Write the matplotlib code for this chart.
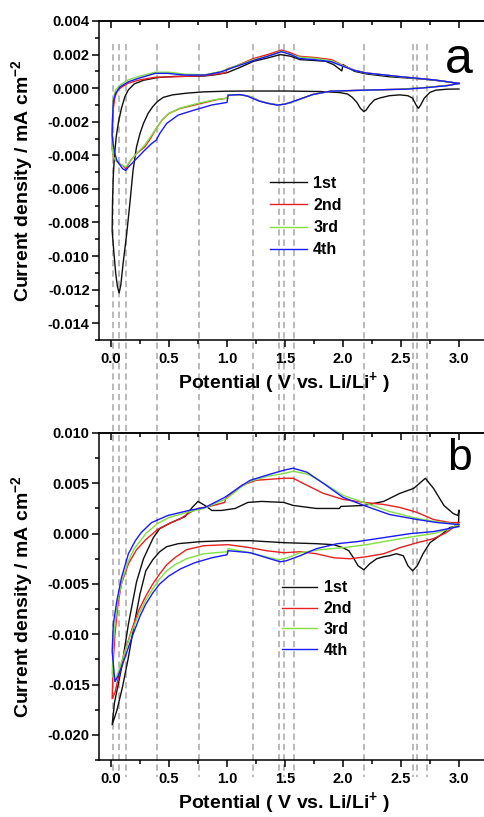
import numpy as np
import matplotlib
matplotlib.use("Agg")
import matplotlib.pyplot as plt
from matplotlib.lines import Line2D
from matplotlib import transforms
from matplotlib.ticker import MultipleLocator, FormatStrFormatter

plt.rcParams['font.family'] = ['Liberation Sans', 'DejaVu Sans']
plt.rcParams['font.weight'] = 'bold'
plt.rcParams['axes.unicode_minus'] = False
plt.rcParams['mathtext.fontset'] = 'custom'
plt.rcParams['mathtext.rm'] = 'Liberation Sans:bold'
plt.rcParams['mathtext.bf'] = 'Liberation Sans:bold'
plt.rcParams['mathtext.it'] = 'Liberation Sans:bold'

# ---------------- data ----------------
cycle_labels = ['1st', '2nd', '3rd', '4th']
cycle_colors = ['#101010', '#e82020', '#80e040', '#1a1aff']
marker_potentials = [0.015, 0.07, 0.127, 0.40, 0.76, 1.22, 1.446, 1.49, 1.58,
                     2.18, 2.60, 2.64, 2.72]

# Panel a: (potential V, current density mA cm-2) pairs
a1_cath = [(3.00, -0.00005), (2.90, -0.00006), (2.80, -0.00012), (2.75, -0.00025),
           (2.70, -0.0006), (2.67, -0.0010), (2.65, -0.0012), (2.63, -0.0010),
           (2.60, -0.0006), (2.56, -0.00045), (2.49, -0.0004), (2.40, -0.00045),
           (2.32, -0.00058), (2.27, -0.0007), (2.23, -0.0010), (2.20, -0.0013),
           (2.18, -0.0014), (2.15, -0.0012), (2.12, -0.00085), (2.08, -0.00055),
           (2.04, -0.00035), (1.97, -0.00026), (1.80, -0.0002), (1.50, -0.00017),
           (1.20, -0.00017), (1.00, -0.00018), (0.80, -0.00022), (0.65, -0.0003),
           (0.53, -0.0004), (0.45, -0.00055), (0.40, -0.0008), (0.36, -0.0011),
           (0.32, -0.0015), (0.28, -0.0021), (0.25, -0.0027), (0.22, -0.0035),
           (0.19, -0.0049), (0.165, -0.0067), (0.135, -0.0087), (0.105, -0.0104),
           (0.085, -0.0117), (0.07, -0.0122), (0.055, -0.0118), (0.04, -0.0110),
           (0.025, -0.0098), (0.01, -0.0085)]
a1_anod = [(0.01, -0.0085), (0.013, -0.0068), (0.02, -0.0052), (0.03, -0.0040),
           (0.045, -0.0029), (0.065, -0.0020), (0.09, -0.0012), (0.12, -0.0005),
           (0.15, -0.0001), (0.20, 0.00025), (0.28, 0.00047), (0.40, 0.00063),
           (0.55, 0.0007), (0.80, 0.00072), (0.90, 0.0008), (1.00, 0.00092),
           (1.10, 0.0012), (1.23, 0.0016), (1.35, 0.0018), (1.46, 0.0020),
           (1.55, 0.0019), (1.63, 0.0017), (1.75, 0.00165), (1.85, 0.0016),
           (1.92, 0.0014), (1.99, 0.00103), (2.00, 0.0014), (2.05, 0.0012),
           (2.10, 0.0010), (2.20, 0.00085), (2.40, 0.00068), (2.70, 0.00054),
           (2.90, 0.00038), (3.00, 0.00028)]
a2_cath = [(3.00, 0.00028), (2.90, 0.00016), (2.70, 0.00003), (2.50, -0.00006),
           (2.20, -0.00012), (1.90, -0.00018), (1.75, -0.00035), (1.65, -0.0006),
           (1.55, -0.00088), (1.45, -0.0010), (1.35, -0.0009), (1.28, -0.00075),
           (1.20, -0.0005), (1.12, -0.0004), (1.01, -0.0004), (1.00, -0.0006),
           (0.90, -0.0007), (0.75, -0.00095), (0.60, -0.0012), (0.50, -0.0015),
           (0.44, -0.0019), (0.39, -0.0024), (0.34, -0.0030), (0.29, -0.0035),
           (0.22, -0.0039), (0.17, -0.0043), (0.127, -0.0048), (0.10, -0.0046),
           (0.07, -0.0045), (0.04, -0.0043), (0.02, -0.0041), (0.01, -0.0036)]
a2_anod = [(0.01, -0.0036), (0.012, -0.0025), (0.02, -0.0012), (0.035, -0.0005),
           (0.06, -0.0001), (0.10, 0.0001), (0.15, 0.0003), (0.24, 0.00048),
           (0.38, 0.00065), (0.55, 0.00068), (0.80, 0.00074), (0.99, 0.00092),
           (1.00, 0.00115), (1.07, 0.0013), (1.23, 0.00177), (1.35, 0.0020),
           (1.47, 0.00227), (1.55, 0.0021), (1.62, 0.0019), (1.75, 0.00183),
           (1.90, 0.0017), (2.00, 0.00135), (2.10, 0.00107), (2.20, 0.00091),
           (2.50, 0.00068), (2.80, 0.00048), (3.00, 0.00028)]
a3_cath = [(3.00, 0.00028), (2.90, 0.00016), (2.70, 0.00003), (2.50, -0.00006),
           (2.20, -0.00012), (1.90, -0.00018), (1.75, -0.00036), (1.65, -0.0006),
           (1.55, -0.00088), (1.45, -0.0010), (1.35, -0.0009), (1.28, -0.00076),
           (1.20, -0.0005), (1.12, -0.0004), (1.01, -0.0004), (1.00, -0.0006),
           (0.90, -0.00068), (0.75, -0.0009), (0.60, -0.00118), (0.50, -0.0015),
           (0.44, -0.0019), (0.39, -0.0024), (0.34, -0.0029), (0.29, -0.0034),
           (0.22, -0.0039), (0.17, -0.0043), (0.127, -0.0047), (0.10, -0.0046),
           (0.07, -0.0045), (0.04, -0.0043), (0.02, -0.0041), (0.01, -0.0036)]
a3_anod = [(0.01, -0.0036), (0.012, -0.0020), (0.02, -0.0006), (0.04, -0.0001),
           (0.08, 0.0002), (0.15, 0.0005), (0.24, 0.0007), (0.38, 0.00095),
           (0.50, 0.00095), (0.64, 0.00083), (0.81, 0.0008), (0.95, 0.0010),
           (1.07, 0.0013), (1.23, 0.0017), (1.35, 0.0019), (1.47, 0.0022),
           (1.55, 0.0020), (1.62, 0.00185), (1.75, 0.00178), (1.90, 0.00163),
           (2.00, 0.00133), (2.10, 0.00106), (2.20, 0.0009), (2.50, 0.00068),
           (2.80, 0.00048), (3.00, 0.00028)]
a4_cath = [(3.00, 0.00028), (2.90, 0.00015), (2.70, 0.00002), (2.55, -0.00006),
           (2.17, -0.00012), (1.89, -0.00018), (1.74, -0.00038), (1.60, -0.00072),
           (1.50, -0.00095), (1.43, -0.00101), (1.35, -0.0009), (1.28, -0.00078),
           (1.17, -0.00046), (1.11, -0.00038), (1.01, -0.00042), (1.00, -0.00085),
           (0.87, -0.0010), (0.72, -0.0013), (0.58, -0.0016), (0.48, -0.0021),
           (0.42, -0.0027), (0.39, -0.0031), (0.35, -0.0033), (0.29, -0.0037),
           (0.22, -0.0042), (0.15, -0.0047), (0.127, -0.0049), (0.10, -0.0048),
           (0.07, -0.0045), (0.05, -0.0043), (0.034, -0.0039), (0.02, -0.0034),
           (0.01, -0.0028)]
a4_anod = [(0.01, -0.0028), (0.012, -0.0020), (0.02, -0.0008), (0.04, -0.0003),
           (0.078, 0.00008), (0.15, 0.00038), (0.235, 0.00058), (0.38, 0.00088),
           (0.49, 0.00088), (0.64, 0.00078), (0.81, 0.00078), (0.95, 0.00097),
           (1.07, 0.00127), (1.24, 0.00167), (1.35, 0.0019), (1.47, 0.00217),
           (1.55, 0.0020), (1.62, 0.00177), (1.75, 0.0017), (1.90, 0.00157),
           (2.00, 0.0013), (2.10, 0.00105), (2.20, 0.0009), (2.50, 0.00068),
           (2.80, 0.00048), (3.00, 0.00028)]

# Panel b
b1_cath = [(3.00, 0.0023), (2.995, 0.0008), (2.92, 0.0006), (2.87, 0.0001),
           (2.81, -0.0004), (2.75, -0.0009), (2.69, -0.0020), (2.64, -0.0032),
           (2.60, -0.0037), (2.56, -0.0032), (2.52, -0.0022), (2.46, -0.0020),
           (2.40, -0.0022), (2.35, -0.0023), (2.29, -0.0025), (2.23, -0.0030),
           (2.18, -0.0036), (2.13, -0.0032), (2.09, -0.0024), (2.05, -0.0017),
           (2.00, -0.0014), (1.92, -0.0011), (1.77, -0.0010), (1.49, -0.0009),
           (1.20, -0.0007), (1.00, -0.0007), (0.77, -0.0008), (0.58, -0.0010),
           (0.48, -0.0013), (0.42, -0.0018), (0.36, -0.0026), (0.30, -0.0037),
           (0.25, -0.0060), (0.20, -0.0090), (0.15, -0.0123), (0.10, -0.0152),
           (0.05, -0.0176), (0.01, -0.0190)]
b1_anod = [(0.01, -0.0190), (0.03, -0.0168), (0.09, -0.0134), (0.15, -0.0090),
           (0.22, -0.0048), (0.28, -0.0025), (0.32, -0.0015), (0.365, -0.0004),
           (0.42, 0.0005), (0.52, 0.0011), (0.64, 0.0017), (0.70, 0.0026),
           (0.75, 0.0032), (0.81, 0.0028), (0.87, 0.0023), (0.95, 0.0023),
           (1.07, 0.0025), (1.18, 0.0031), (1.30, 0.0032), (1.49, 0.0031),
           (1.57, 0.0028), (1.77, 0.0025), (1.97, 0.0025), (1.98, 0.0027),
           (2.18, 0.0028), (2.35, 0.0032), (2.49, 0.0040), (2.61, 0.0045),
           (2.71, 0.0055), (2.78, 0.0045), (2.87, 0.0028), (2.95, 0.0020),
           (2.99, 0.0018), (3.00, 0.0023)]
b2_cath = [(3.00, 0.0011), (2.95, 0.0006), (2.89, 0.0001), (2.78, -0.0005),
           (2.64, -0.0009), (2.49, -0.0014), (2.35, -0.0020), (2.20, -0.0023),
           (2.06, -0.0025), (1.92, -0.0024), (1.77, -0.0020), (1.63, -0.0018),
           (1.49, -0.0019), (1.34, -0.0017), (1.20, -0.0014), (1.01, -0.0011),
           (0.80, -0.0012), (0.65, -0.0016), (0.55, -0.0024), (0.48, -0.0031),
           (0.42, -0.0040), (0.36, -0.0050), (0.30, -0.0062), (0.24, -0.0076),
           (0.18, -0.0095), (0.12, -0.0117), (0.07, -0.0140), (0.034, -0.0158),
           (0.01, -0.0164)]
b2_anod = [(0.01, -0.0164), (0.02, -0.0125), (0.034, -0.0100), (0.06, -0.0070),
           (0.09, -0.0050), (0.15, -0.0030), (0.22, -0.0016), (0.30, -0.0006),
           (0.40, 0.0004), (0.50, 0.0010), (0.60, 0.0015), (0.68, 0.0021),
           (0.75, 0.0025), (0.85, 0.0027), (0.98, 0.0031), (0.99, 0.0035),
           (1.13, 0.0048), (1.25, 0.0053), (1.37, 0.0054), (1.49, 0.0055),
           (1.57, 0.0055), (1.69, 0.0048), (1.83, 0.0040), (2.00, 0.0034),
           (2.18, 0.0031), (2.35, 0.0029), (2.49, 0.0026), (2.64, 0.0021),
           (2.78, 0.0014), (2.92, 0.0011), (3.00, 0.0011)]
b3_cath = [(3.00, 0.0009), (2.90, 0.0004), (2.78, 0.0000), (2.60, -0.0003),
           (2.40, -0.0007), (2.20, -0.0011), (2.00, -0.0014), (1.80, -0.0016),
           (1.63, -0.0019), (1.52, -0.0024), (1.45, -0.0026), (1.37, -0.0024),
           (1.20, -0.0019), (1.01, -0.0015), (1.00, -0.0018), (0.80, -0.0020),
           (0.65, -0.0025), (0.55, -0.0031), (0.48, -0.0037), (0.42, -0.0045),
           (0.36, -0.0055), (0.30, -0.0066), (0.24, -0.0080), (0.18, -0.0097),
           (0.12, -0.0117), (0.07, -0.0135), (0.034, -0.0147), (0.01, -0.0140)]
b3_anod = [(0.01, -0.0140), (0.02, -0.0110), (0.034, -0.0090), (0.06, -0.0065),
           (0.10, -0.0045), (0.15, -0.0027), (0.20, -0.0015), (0.30, 0.0000),
           (0.40, 0.0010), (0.50, 0.0016), (0.65, 0.0021), (0.80, 0.0025),
           (1.00, 0.0035), (1.13, 0.0047), (1.20, 0.0052), (1.35, 0.0057),
           (1.50, 0.0060), (1.57, 0.0062), (1.70, 0.0059), (1.85, 0.0049),
           (2.00, 0.0038), (2.20, 0.0030), (2.40, 0.0022), (2.64, 0.0015),
           (2.80, 0.0012), (3.00, 0.0009)]
b4_cath = [(3.00, 0.0007), (2.78, 0.0002), (2.58, 0.0000), (2.35, -0.0004),
           (2.12, -0.0008), (1.95, -0.0010), (1.77, -0.0015), (1.63, -0.0022),
           (1.51, -0.0027), (1.46, -0.0028), (1.37, -0.0025), (1.20, -0.0019),
           (1.01, -0.0017), (1.00, -0.0021), (0.87, -0.0024), (0.72, -0.0029),
           (0.60, -0.0035), (0.50, -0.0042), (0.42, -0.0050), (0.36, -0.0059),
           (0.30, -0.0070), (0.25, -0.0082), (0.19, -0.0100), (0.15, -0.0113),
           (0.10, -0.0130), (0.06, -0.0142), (0.034, -0.0147), (0.01, -0.0117)]
b4_anod = [(0.01, -0.0117), (0.02, -0.0090), (0.05, -0.0067), (0.09, -0.0044),
           (0.15, -0.0020), (0.21, -0.0007), (0.26, 0.0001), (0.35, 0.0011),
           (0.49, 0.0018), (0.67, 0.0023), (0.81, 0.0026), (0.98, 0.0036),
           (1.13, 0.0048), (1.20, 0.0053), (1.37, 0.0059), (1.49, 0.0063),
           (1.57, 0.0065), (1.69, 0.0061), (1.83, 0.0050), (2.00, 0.0036),
           (2.18, 0.0028), (2.40, 0.0019), (2.64, 0.0014), (2.81, 0.0011),
           (3.00, 0.0009)]

panel_a = [(a1_cath, a1_anod), (a2_cath, a2_anod), (a3_cath, a3_anod), (a4_cath, a4_anod)]
panel_b = [(b1_cath, b1_anod), (b2_cath, b2_anod), (b3_cath, b3_anod), (b4_cath, b4_anod)]

# ---------------- figure ----------------
W, H = 484, 817
fig = plt.figure(figsize=(W / 100, H / 100), dpi=100)
fig.patch.set_facecolor('white')

def px_box(left, top, right, bottom):
    return [left / W, 1 - bottom / H, (right - left) / W, (bottom - top) / H]

ax_a = fig.add_axes(px_box(99.4, 21, 488, 340))
ax_b = fig.add_axes(px_box(99.4, 433, 488, 760))

def style_axes(ax, ylim, ymajor, yminor):
    ax.set_facecolor('none')
    ax.set_xlim(-0.1, 3.25)
    ax.set_ylim(*ylim)
    ax.xaxis.set_major_locator(MultipleLocator(0.5))
    ax.xaxis.set_minor_locator(MultipleLocator(0.25))
    ax.yaxis.set_major_locator(MultipleLocator(ymajor))
    ax.yaxis.set_minor_locator(MultipleLocator(yminor))
    ax.xaxis.set_major_formatter(FormatStrFormatter('%.1f'))
    ax.yaxis.set_major_formatter(FormatStrFormatter('%.3f'))
    for s in ax.spines.values():
        s.set_linewidth(1.1)
    ax.spines['right'].set_visible(False)
    ax.tick_params(axis='both', which='both', width=1.1, labelsize=10.5,
                   direction='out', top=False, right=False)
    ax.tick_params(axis='x', which='major', length=5, pad=3.5)
    ax.tick_params(axis='x', which='minor', length=3)
    ax.tick_params(axis='y', which='major', length=5, pad=2)
    ax.tick_params(axis='y', which='minor', length=3)
    # top axis: ticks pointing inward, no labels
    top = ax.secondary_xaxis('top')
    top.xaxis.set_major_locator(MultipleLocator(0.5))
    top.xaxis.set_minor_locator(MultipleLocator(0.25))
    top.tick_params(axis='x', which='both', direction='in', width=1.1,
                    labeltop=False)
    top.tick_params(axis='x', which='major', length=5)
    top.tick_params(axis='x', which='minor', length=3)
    top.spines['top'].set_linewidth(1.1)
    ax.set_xlabel(r'Potential ( V vs. Li/Li$^{+}$ )', fontsize=14, fontweight='bold')
    ax.set_ylabel(r'Current density / mA cm$^{-2}$', fontsize=14, fontweight='bold')

style_axes(ax_a, (-0.015, 0.004), 0.002, 0.001)
style_axes(ax_b, (-0.0225, 0.010), 0.005, 0.0025)

for ax, data in ((ax_a, panel_a), (ax_b, panel_b)):
    for (cath, anod), col, lab in zip(data, cycle_colors, cycle_labels):
        pts = np.array(cath + anod)
        ax.plot(pts[:, 0], pts[:, 1], color=col, lw=1.0, label=lab,
                solid_joinstyle='round')

ax_a.xaxis.set_label_coords(0.475, -0.095)
ax_b.xaxis.set_label_coords(0.475, -0.092)
ax_a.yaxis.set_label_coords(-0.165, 0.5)
ax_b.yaxis.set_label_coords(-0.165, 0.5)

ax_a.legend(loc='center left', bbox_to_anchor=(270 / W, 1 - 216.5 / H),
            bbox_transform=fig.transFigure, frameon=False, handlelength=2.3,
            handletextpad=0.4, labelspacing=0.45, borderpad=0, borderaxespad=0,
            prop={'weight': 'bold', 'size': 11.5})
ax_b.legend(loc='center left', bbox_to_anchor=(282 / W, 1 - 619 / H),
            bbox_transform=fig.transFigure, frameon=False, handlelength=2.2,
            handletextpad=0.4, labelspacing=0.36, borderpad=0, borderaxespad=0,
            prop={'weight': 'bold', 'size': 11.5})

ax_a.text(459 / W, 1 - 60 / H, 'a', transform=fig.transFigure, fontsize=36,
          fontweight='normal', ha='center', va='center')
ax_b.text(459 / W, 1 - 458 / H, 'b', transform=fig.transFigure, fontsize=32,
          fontweight='normal', ha='center', va='center')

# vertical dashed guide lines spanning both panels
blend = transforms.blended_transform_factory(ax_a.transData, fig.transFigure)
for v in marker_potentials:
    ln = Line2D([v, v], [1 - 44 / H, 1 - 777 / H], transform=blend,
                color='#b4b4b4', lw=1.3, linestyle=(0, (3.5, 2.2)), zorder=-1)
    fig.add_artist(ln)

fig.savefig('out.png', dpi=100, facecolor='white')
